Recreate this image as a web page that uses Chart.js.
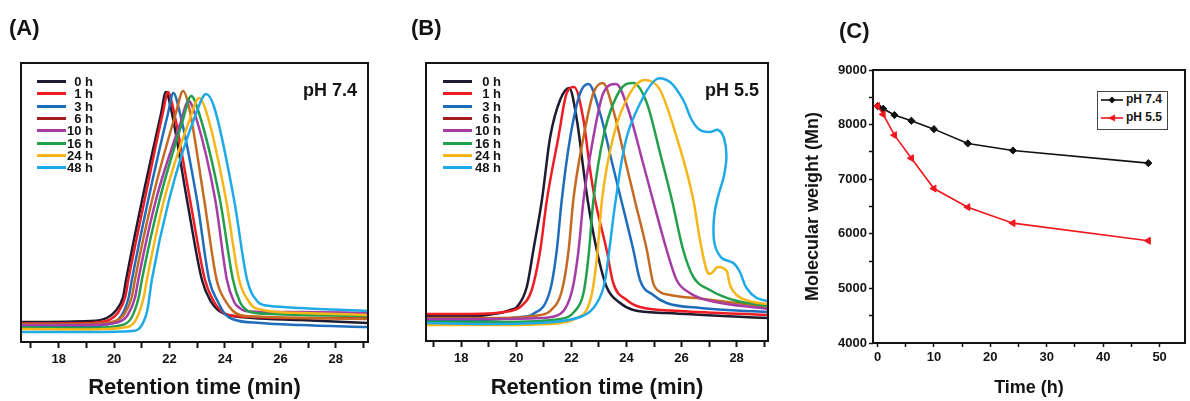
<!DOCTYPE html>
<html><head><meta charset="utf-8">
<script src="https://cdn.jsdelivr.net/npm/chart.js@4.4.1/dist/chart.umd.min.js"></script>
<style>
html,body{margin:0;padding:0;background:#fff;}
body{width:1190px;height:401px;position:relative;overflow:hidden;font-family:"Liberation Sans",Arial,Helvetica,sans-serif;}
canvas{position:absolute;top:0;}
.t{position:absolute;font-weight:bold;color:#141414;white-space:nowrap;line-height:1;}
.ln{position:absolute;height:3px;}
</style></head><body>
<canvas id="ca" width="390" height="401" style="left:0px"></canvas>
<canvas id="cb" width="380" height="401" style="left:400px"></canvas>
<canvas id="cc" width="410" height="401" style="left:780px"></canvas>
<div id="ov"></div>
<script>
// ---------------- DATA ----------------
const sampleTimes = ['0 h','1 h','3 h','6 h','10 h','16 h','24 h','48 h'];
const retentionTickMarks = [17,18,19,20,21,22,23,24,25,26,27,28,29];
const retentionTicks = [18,20,22,24,26,28];
const timeTickMarks = [0,5,10,15,20,25,30,35,40,45,50];
const timeTicks = [0,10,20,30,40,50];
const mnTickMarks = [4000,4500,5000,5500,6000,6500,7000,7500,8000,8500,9000];
const mnTicks = [4000,5000,6000,7000,8000,9000];

// Panel A, pH 7.4 : [retention time (min), detector signal]
const gpc74_0h  = [[16.65,20],[19.13,21],[19.73,24],[20.05,31],[20.32,45],[20.43,62],[21.01,142],[21.69,228],[21.87,250],[22.04,235],[22.63,142],[23.17,62],[23.5,40],[23.75,32],[24.0,28],[25.0,24],[26.71,22],[29.15,19]];
const gpc74_1h  = [[16.65,18.5],[19.13,19],[19.81,22],[20.13,29],[20.40,45],[20.51,62],[21.10,142],[21.75,228],[21.95,250],[22.12,235],[22.74,142],[23.28,62],[23.61,40],[23.86,31],[24.11,27],[25.1,25],[26.71,24],[29.15,24]];
const gpc74_3h  = [[16.65,16],[19.13,16],[19.94,19],[20.26,26],[20.53,45],[20.64,62],[21.23,142],[21.93,227],[22.14,249],[22.33,234],[22.99,142],[23.43,62],[23.75,40],[24.0,28],[24.26,23],[25.3,19],[26.71,17],[29.15,15]];
const gpc74_6h  = [[16.65,18],[19.13,18],[20.05,21],[20.37,28],[20.64,45],[20.75,62],[21.37,142],[22.22,228],[22.49,251],[22.70,235],[23.25,142],[23.70,62],[24.04,40],[24.29,31],[24.54,27],[25.5,25],[26.71,24],[29.15,23]];
const gpc74_10h = [[16.65,17],[19.13,17],[20.17,20],[20.49,27],[20.76,45],[20.87,62],[21.51,142],[22.38,218],[22.69,241],[22.95,225],[23.65,142],[24.07,62],[24.33,40],[24.53,34],[24.73,31],[25.6,30],[26.71,30],[29.15,29]];
const gpc74_16h = [[16.65,14.5],[19.13,14],[20.30,17],[20.62,24],[20.89,45],[21.0,62],[21.64,142],[22.48,222],[22.78,246],[23.05,230],[23.82,142],[24.29,62],[24.54,40],[24.73,33],[24.91,30],[25.7,28],[26.71,27],[29.15,26]];
const gpc74_24h = [[16.65,13],[19.13,12.5],[20.48,15],[20.80,23],[21.07,45],[21.18,62],[21.80,142],[22.72,222],[23.07,244],[23.35,228],[24.04,142],[24.51,62],[24.87,40],[25.03,35],[25.19,33],[25.9,30],[26.71,29],[29.15,27]];
const gpc74_48h = [[16.65,10],[19.13,10],[20.66,11],[20.98,16],[21.2,32],[21.36,62],[21.98,142],[22.95,228],[23.32,248],[23.62,234],[24.33,142],[24.80,62],[25.19,40],[25.4,37],[25.63,36],[26.71,34],[29.15,31]];

// Panel B, pH 5.5
const gpc55_0h  = [[16.73,25],[18.33,25],[19.41,28],[19.78,31],[20.02,34],[20.38,54],[20.62,91],[20.93,141],[21.23,204],[21.59,241],[21.92,253],[22.20,221],[22.44,171],[22.59,141],[22.92,91],[23.28,54],[23.77,38],[24.25,31],[25.46,28],[29.13,23]];
const gpc55_1h  = [[16.73,27],[18.33,27],[19.78,30],[20.14,34],[20.56,51],[20.87,91],[21.11,141],[21.53,204],[21.83,248],[22.10,254],[22.44,221],[22.68,171],[22.86,141],[23.28,91],[23.52,58],[24.01,41],[24.49,34],[25.94,30],[29.13,26]];
const gpc55_3h  = [[16.73,21],[18.69,21],[20.14,24],[20.61,27],[21.23,51],[21.47,91],[21.65,141],[21.96,204],[22.32,248],[22.62,257],[23.04,228],[23.48,178],[23.81,141],[24.25,91],[24.49,61],[24.97,46],[25.46,38],[26.68,33],[29.13,29]];
const gpc55_6h  = [[16.73,23],[19.41,23],[20.87,26],[21.23,30],[21.66,51],[21.90,91],[22.07,141],[22.44,204],[22.80,248],[23.14,258],[23.52,231],[23.98,178],[24.30,141],[24.74,91],[24.97,58],[25.22,49],[25.58,46],[26.79,42],[29.13,34]];
const gpc55_10h = [[16.73,22],[19.5,22],[20.9,23],[21.59,27],[22.03,51],[22.26,91],[22.44,141],[22.80,204],[23.16,248],[23.62,257],[24.07,231],[24.6,178],[24.96,141],[25.46,91],[25.82,61],[26.30,48],[26.91,41],[29.13,32]];
const gpc55_16h = [[16.73,19],[19.5,19],[21.59,22],[22.13,30],[22.44,48],[22.62,84],[22.80,141],[23.16,204],[23.77,251],[24.25,258],[24.74,238],[25.22,188],[25.65,141],[26.06,91],[26.43,64],[27.03,51],[27.88,41],[29.13,35]];
const gpc55_24h = [[16.73,16],[19.5,16],[21.6,18],[22.2,23],[22.53,30],[22.75,48],[22.93,84],[23.11,141],[23.52,204],[24.13,248],[24.67,261],[25.22,251],[25.82,204],[26.43,141],[26.67,101],[26.91,71],[27.03,67],[27.33,74],[27.64,70],[27.76,56],[28.0,46],[28.6,39],[29.13,37]];
const gpc55_48h = [[16.73,18],[19.41,17],[21.34,19],[22.32,24],[22.80,33],[23.16,53],[23.37,90],[23.61,141],[24.01,204],[24.61,244],[25.10,262],[25.58,259],[26.06,241],[26.37,221],[26.67,211],[27.03,209],[27.33,211],[27.54,203],[27.63,185],[27.54,165],[27.36,148],[27.21,130],[27.16,113],[27.21,96],[27.46,83],[27.88,78],[28.12,69],[28.36,53],[28.73,43],[29.13,40]];

// Panel C: molecular weight vs time
const timeH  = [0,1,3,6,10,16,24,48];
const mnPH74 = [8340,8290,8175,8070,7917,7655,7526,7294];
const mnPH55 = [8340,8187,7807,7385,6829,6488,6195,5872];

const gpc74 = [gpc74_0h,gpc74_1h,gpc74_3h,gpc74_6h,gpc74_10h,gpc74_16h,gpc74_24h,gpc74_48h];
const gpc55 = [gpc55_0h,gpc55_1h,gpc55_3h,gpc55_6h,gpc55_10h,gpc55_16h,gpc55_24h,gpc55_48h];

// ---------------- STYLE ----------------
const FONT = '"Liberation Sans", Arial, Helvetica, sans-serif';
const INK = '#141414';
const lineColors   = ['#1f1b2e','#ee1c24','#1f6dbb','#c46a22','#a63ca6','#22a04b','#f6b618','#1eaae6'];
const legendColors = ['#1f1b2e','#ee1c24','#1f6dbb','#a51d1d','#a63ca6','#22a04b','#f6b618','#1eaae6'];

const framePlugin = {
  id: 'frame',
  afterDraw(chart, args, opts) {
    const {ctx, chartArea: a} = chart;
    ctx.save();
    ctx.strokeStyle = INK;
    ctx.lineWidth = opts.width || 2;
    ctx.strokeRect(a.left, a.top, a.right - a.left, a.bottom - a.top);
    ctx.restore();
  }
};

function tickFont(sz){ return {family: FONT, size: sz, weight: 'bold'}; }
function fixedTicks(list){ return s => { s.ticks = list.map(v => ({value: v})); }; }

function makeGpc(id, traces, xmin, xmax, ymax, pad, axisH, smoothLast) {
  return new Chart(document.getElementById(id), {
    type: 'scatter',
    data: {
      datasets: traces.map((tr, i) => ({
        label: sampleTimes[i],
        data: tr.map(p => ({x: p[0], y: p[1]})),
        showLine: true,
        borderColor: lineColors[i],
        backgroundColor: lineColors[i],
        borderWidth: 2.5,
        pointRadius: 0,
        cubicInterpolationMode: (smoothLast && i === traces.length - 1) ? 'default' : 'monotone',
        tension: 0.35,
        order: -i
      }))
    },
    options: {
      responsive: false, animation: false, events: [],
      layout: {padding: pad},
      plugins: {legend: {display: false}, tooltip: {enabled: false}, frame: {width: 2}},
      scales: {
        x: {
          type: 'linear', min: xmin, max: xmax,
          afterBuildTicks: fixedTicks(retentionTickMarks),
          afterFit(s) { s.height = axisH; },
          border: {display: false},
          grid: {drawOnChartArea: false, drawTicks: true, tickLength: 6, tickWidth: 2, tickColor: INK},
          ticks: {autoSkip: false, maxRotation: 0, padding: 4, color: INK, font: tickFont(13),
                  callback: v => retentionTicks.includes(v) ? String(v) : ''},
          title: {display: true, text: 'Retention time (min)', color: INK, font: tickFont(22), padding: {top: 0, bottom: 0}}
        },
        y: {display: false, min: 0, max: ymax}
      }
    },
    plugins: [framePlugin]
  });
}

makeGpc('ca', gpc74, 16.64, 29.16, 279, {left: 21, right: 22, top: 63, bottom: 0}, 59, false);
makeGpc('cb', gpc55, 16.72, 29.14, 278, {left: 26, right: 12, top: 63, bottom: 0}, 60, true);

new Chart(document.getElementById('cc'), {
  type: 'scatter',
  data: {
    datasets: [
      {label: 'pH 7.4', data: timeH.map((t, i) => ({x: t, y: mnPH74[i]})), showLine: true,
       borderColor: '#111', backgroundColor: '#111', borderWidth: 1.6,
       pointStyle: 'rectRot', pointRadius: 3.6, pointBorderWidth: 1, order: 1},
      {label: 'pH 5.5', data: timeH.map((t, i) => ({x: t, y: mnPH55[i]})), showLine: true,
       borderColor: '#f0161b', backgroundColor: '#f0161b', borderWidth: 1.6,
       pointStyle: 'triangle', rotation: -90, pointRadius: 4, pointBorderWidth: 1, order: 0}
    ]
  },
  options: {
    responsive: false, animation: false, events: [],
    layout: {padding: {left: 0, right: 2, top: 70, bottom: 0}},
    plugins: {legend: {display: false}, tooltip: {enabled: false}, frame: {width: 2}},
    scales: {
      x: {
        type: 'linear', min: -0.8, max: 54.5,
        afterBuildTicks: fixedTicks(timeTickMarks),
        afterFit(s) { s.height = 58; },
        border: {display: false},
        grid: {drawOnChartArea: false, drawTicks: true, tickLength: 4, tickWidth: 1.5, tickColor: INK},
        ticks: {autoSkip: false, maxRotation: 0, padding: 3, color: INK, font: tickFont(13),
                callback: v => timeTicks.includes(v) ? String(v) : ''},
        title: {display: true, text: 'Time (h)', color: INK, font: tickFont(18), padding: {top: 0, bottom: 2}}
      },
      y: {
        type: 'linear', min: 4000, max: 9000,
        afterBuildTicks: fixedTicks(mnTickMarks),
        afterFit(s) { s.width = 93; },
        border: {display: false},
        grid: {drawOnChartArea: false, drawTicks: true, tickLength: 4, tickWidth: 1.5, tickColor: INK},
        ticks: {autoSkip: false, padding: 2, color: INK, font: tickFont(13),
                callback: v => mnTicks.includes(v) ? String(v) : ''},
        title: {display: true, text: 'Molecular weight (Mn)', color: INK, font: tickFont(18), padding: {top: 22, bottom: 0}}
      }
    }
  },
  plugins: [framePlugin]
});

// ---------------- OVERLAY TEXT / LEGENDS ----------------
const ov = document.getElementById('ov');
function addText(txt, left, top, size, align) {
  const d = document.createElement('div');
  d.className = 't';
  d.textContent = txt;
  d.style.fontSize = size + 'px';
  d.style.top = top + 'px';
  if (align === 'right') { d.style.right = (1190 - left) + 'px'; } else { d.style.left = left + 'px'; }
  ov.appendChild(d);
  return d;
}
addText('(A)', 9, 17, 22);
addText('(B)', 411, 17, 22);
addText('(C)', 839, 20, 22);
addText('pH 7.4', 357, 81, 18, 'right');
addText('pH 5.5', 759, 81, 18, 'right');

function gpcLegend(lineLeft, lineRight, textRight) {
  sampleTimes.forEach((lab, i) => {
    const top = 75 + i * 12.33;
    addText(lab, textRight, top, 13, 'right');
    const l = document.createElement('div');
    l.className = 'ln';
    l.style.left = lineLeft + 'px';
    l.style.width = (lineRight - lineLeft) + 'px';
    l.style.top = (top + 5) + 'px';
    l.style.background = legendColors[i];
    ov.appendChild(l);
  });
}
gpcLegend(37, 66, 93);
gpcLegend(443, 472, 501);

// Panel C legend box
const lb = document.createElement('div');
lb.style.cssText = 'position:absolute;left:1097px;top:91px;width:69px;height:37px;border:1px solid #444;background:#fff;';
ov.appendChild(lb);
const cLegend = [
  {label: 'pH 7.4', color: '#111', shape: 'diamond'},
  {label: 'pH 5.5', color: '#f0161b', shape: 'tri'}
];
cLegend.forEach((e, i) => {
  const cy = 100 + i * 18.3;
  const svgNS = 'http://www.w3.org/2000/svg';
  const s = document.createElementNS(svgNS, 'svg');
  s.setAttribute('width', '24'); s.setAttribute('height', '10');
  s.style.cssText = 'position:absolute;left:1101px;top:' + (cy - 5) + 'px;';
  const ln = document.createElementNS(svgNS, 'line');
  ln.setAttribute('x1', '0'); ln.setAttribute('x2', '22'); ln.setAttribute('y1', '5'); ln.setAttribute('y2', '5');
  ln.setAttribute('stroke', e.color); ln.setAttribute('stroke-width', '1.6');
  s.appendChild(ln);
  const pg = document.createElementNS(svgNS, 'polygon');
  pg.setAttribute('points', e.shape === 'diamond' ? '11,1.5 14.5,5 11,8.5 7.5,5' : '7,5 14,1.5 14,8.5');
  pg.setAttribute('fill', e.color);
  s.appendChild(pg);
  ov.appendChild(s);
  addText(e.label, 1126, cy - 7, 12);
});
</script>
</body></html>
